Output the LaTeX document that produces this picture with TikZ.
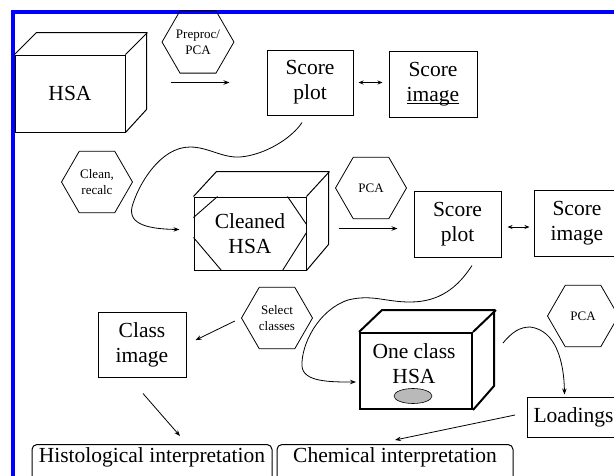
\documentclass[tikz,border=0pt]{standalone}
\usepackage{fontspec}
\setmainfont{Liberation Serif}
\usetikzlibrary{calc,shapes.geometric,arrows.meta}
\newcommand\bigtxt{\fontsize{21.5}{25}\selectfont}
\newcommand\smalltxt{\fontsize{13}{16}\selectfont}
\newcommand\ulword[1]{\setbox0=\hbox{#1}\rlap{\rule[-2.5pt]{\wd0}{0.8pt}}#1}
\tikzset{
  frame/.style={draw=blue, line width=4pt},
  face/.style={draw, line width=1pt, inner sep=0pt, align=center, font=\bigtxt},
  cubeedge/.style={line width=1pt},
  cutline/.style={line width=0.9pt},
  hexa/.style={draw, regular polygon, regular polygon sides=6, minimum size=71pt,
    inner sep=0pt, line width=0.8pt, align=center, font=\smalltxt},
  interp/.style={draw, rounded corners=5pt, line width=1pt, font=\bigtxt, anchor=north,
    text height=15pt, text depth=20pt, inner ysep=3pt, inner xsep=4pt},
  spot/.style={draw, ellipse, fill=gray!55, line width=0.6pt, minimum width=38pt,
    minimum height=15pt, inner sep=0pt},
  arr/.style={-{Stealth[length=6pt,width=4.5pt]}, line width=0.8pt},
  dbl/.style={{Stealth[length=5pt,width=4pt]}-{Stealth[length=5pt,width=4pt]}, line width=0.8pt},
  }
\begin{document}
\begin{tikzpicture}[x=1pt,y=-1pt]
  \useasboundingbox (0,0) rectangle (614,475);
  % blue frame
  \draw[frame] (13.3,480) -- (13.3,11.7) -- (620,11.7);

  % first row
  \node[face, minimum width=110pt, minimum height=77pt] (hsa) at (70,93.5) {HSA};
  \draw[cubeedge] (hsa.north west) -- ++(22,-22) -- ++(110,0) -- ++(0,77) -- (hsa.south east);
  \draw[cubeedge] (hsa.north east) -- ++(22,-22);
  \node[hexa] (prep) at (198,42) {Preproc/\\PCA};
  \node[face, minimum width=86pt, minimum height=65pt] (splotA) at (310,82.5) {Score\\plot};
  \node[face, minimum width=88pt, minimum height=66pt] (simgA) at (433,84) {Score\\\ulword{image}};

  % second row
  \node[hexa] (clean) at (97,182) {Clean,\\recalc};
  \node[face, minimum width=112pt, minimum height=73pt] (cleaned) at (250,233.5) {Cleaned\\HSA};
  \draw[cubeedge] (cleaned.north west) -- ++(23,-25) -- ++(112,0) -- ++(0,73) -- (cleaned.south east);
  \draw[cubeedge] (cleaned.north east) -- ++(23,-25);
  \draw[cutline] ([yshift=-21pt]cleaned.north west) -- ([xshift=24pt]cleaned.north west);
  \draw[cutline] ([yshift=33pt]cleaned.south west) -- ([xshift=28pt]cleaned.south west);
  \draw[cutline] ([xshift=-19pt]cleaned.north east) -- ([yshift=-28pt]cleaned.north east);
  \draw[cutline] ([xshift=-24pt]cleaned.south east) -- ([yshift=38pt]cleaned.south east);
  \node[hexa] (pcaA) at (371,188) {PCA};
  \node[face, minimum width=87pt, minimum height=66pt] (splotB) at (457.5,224) {Score\\plot};
  \node[face, minimum width=86pt, minimum height=66pt] (simgB) at (577,223) {Score\\image};

  % third row
  \node[hexa] (sel) at (277,318) {Select\\classes};
  \node[face, minimum width=88pt, minimum height=65pt] (classimg) at (142,344.5) {Class\\image};
  \node[face, line width=2pt, minimum width=112pt, minimum height=76pt] (oneclass) at (416,371) {};
  \draw[line width=2pt] (oneclass.north west) -- ++(23,-22) -- ++(112,0) -- ++(0,76) -- (oneclass.south east);
  \draw[line width=2pt] (oneclass.north east) -- ++(23,-22);
  \node[font=\bigtxt, align=center, inner sep=0pt] (onetxt) at (414,364) {One class\\HSA};
  \node[spot] (blob) at (413,396) {};
  \node[hexa] (pcaB) at (583,316) {PCA};
  \node[face, anchor=west, text width=90pt, align=left, inner xsep=6pt, minimum height=40pt] (loadings) at (527,417) {Loadings};

  % bottom boxes
  \node[interp, minimum width=240pt] (histo) at (152,444) {Histological interpretation};
  \node[interp, minimum width=236pt] (chem) at (395,444) {Chemical interpretation};

  % straight arrows
  \draw[arr, shorten <=45pt, shorten >=37pt] (hsa.east |- splotA.west) -- (splotA.west);
  \draw[dbl, shorten <=5pt, shorten >=6pt] (splotA.east) -- (splotA.east -| simgA.west);
  \draw[arr, shorten <=32pt, shorten >=16pt] ($(cleaned.east)+(0,-5)$) -- ($(cleaned.east -| splotB.west)+(0,-5)$);
  \draw[dbl, shorten <=6pt, shorten >=4pt] ($(splotB.east)+(0,3)$) -- ($(splotB.east -| simgB.west)+(0,3)$);
  \draw[arr, shorten <=7pt, shorten >=10pt] (sel.west) -- (classimg.east);
  \draw[arr] ($(classimg.south)+(1,16)$) -- ($(histo.north)+(28,-8)$);
  \draw[arr] ($(loadings.west)+(-12,-2)$) -- ($(chem.north)+(0,-4)$);

  % curved arrows
  \draw[arr] ($(splotA.south)+(-8,7)$) .. controls (292,138) and (265,155) .. (240,157)
    .. controls (222,158) and (208,147) .. (190,147)
    .. controls (160,147) and (138,185) .. (132,207)
    .. controls (128,225) and (150,229) .. ($(cleaned.west)+(-14,-4)$);
  \draw[arr] ($(splotB.south)+(14.5,8)$) .. controls (458,287) and (440,302) .. (410,302)
    .. controls (385,302) and (372,294) .. (348,300)
    .. controls (318,310) and (301,345) .. (302,366)
    .. controls (303,382) and (330,382) .. ($(oneclass.west)+(-3,11)$);
  \draw[arr] ($(oneclass.east)+(30,-28)$) .. controls (512,332) and (520,327) .. (530,327)
    .. controls (556,330) and (564,362) .. ($(loadings.north)+(-14,-2)$);
\end{tikzpicture}
\end{document}
